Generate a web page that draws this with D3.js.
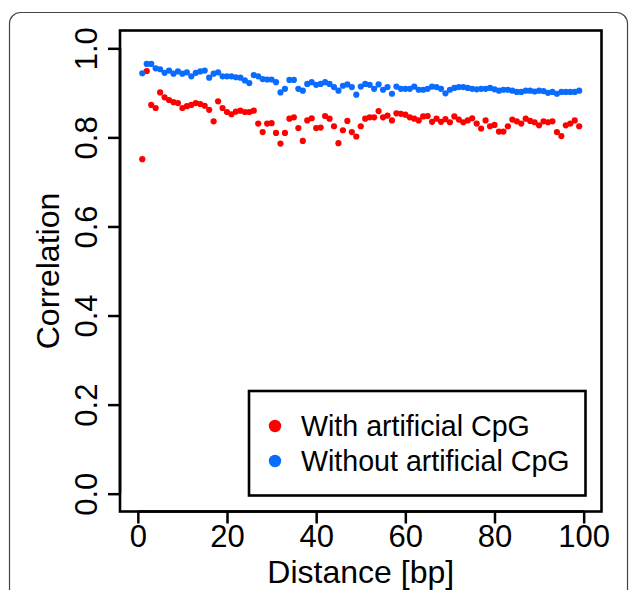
<!DOCTYPE html>
<html>
<head>
<meta charset="utf-8">
<script src="https://cdn.jsdelivr.net/npm/d3@7"></script>
<style>
html,body{margin:0;padding:0;background:#fff;}
svg{display:block;}
text{font-family:"Liberation Sans",Arial,Helvetica,sans-serif;fill:#000;}
</style>
</head>
<body>
<svg id="chart" width="629" height="590"></svg>
<script>
const distance = d3.range(1, 100);
const withCpG = [
0.751,0.949,0.873,0.866,0.901,0.890,0.884,0.879,0.877,0.866,
0.870,0.873,0.877,0.875,0.871,0.862,0.836,0.881,0.866,0.857,
0.852,0.858,0.860,0.857,0.857,0.860,0.831,0.812,0.831,0.832,
0.810,0.786,0.810,0.842,0.845,0.821,0.792,0.838,0.843,0.821,
0.822,0.848,0.842,0.825,0.787,0.816,0.837,0.812,0.802,0.825,
0.842,0.845,0.845,0.859,0.845,0.849,0.838,0.854,0.853,0.851,
0.845,0.842,0.838,0.847,0.848,0.835,0.842,0.835,0.841,0.834,
0.847,0.840,0.834,0.838,0.843,0.831,0.820,0.838,0.825,0.828,
0.813,0.813,0.825,0.840,0.836,0.831,0.842,0.837,0.834,0.827,
0.836,0.834,0.836,0.812,0.803,0.827,0.831,0.838,0.825
];
const withoutCpG = [
0.944,0.965,0.965,0.955,0.953,0.945,0.950,0.943,0.948,0.943,
0.946,0.937,0.945,0.948,0.950,0.934,0.943,0.946,0.937,0.937,
0.937,0.935,0.934,0.928,0.922,0.940,0.937,0.931,0.930,0.930,
0.924,0.901,0.909,0.929,0.929,0.909,0.905,0.920,0.924,0.918,
0.920,0.924,0.920,0.913,0.905,0.916,0.919,0.913,0.896,0.914,
0.920,0.918,0.909,0.919,0.907,0.913,0.898,0.914,0.909,0.909,
0.909,0.914,0.907,0.907,0.909,0.914,0.913,0.909,0.899,0.907,
0.911,0.913,0.913,0.911,0.909,0.908,0.909,0.909,0.911,0.908,
0.905,0.907,0.907,0.905,0.902,0.902,0.905,0.905,0.903,0.905,
0.904,0.900,0.902,0.898,0.902,0.902,0.902,0.902,0.905
];
const xTicks = [0, 20, 40, 60, 80, 100];
const yTicks = [0.0, 0.2, 0.4, 0.6, 0.8, 1.0];
const seriesNames = ["With artificial CpG", "Without artificial CpG"];
const seriesColors = ["#ff0000", "#0a6bff"];
const xLabel = "Distance [bp]";
const yLabel = "Correlation";

const svg = d3.select("#chart");
const L = 120, R = 601.5, T = 30.5, B = 511.5;
const x = d3.scaleLinear().domain([-4, 104]).range([L, R]);
const y = d3.scaleLinear().domain([-0.04, 1.04]).range([B, T]);

// outer panel frame
svg.append("rect").attr("x", 9.5).attr("y", 12.5).attr("width", 618).attr("height", 640)
  .attr("rx", 11).attr("fill", "none").attr("stroke", "#444").attr("stroke-width", 1.2);

// points
const series = [withCpG, withoutCpG];
series.forEach((vals, si) => {
  svg.append("g").selectAll("circle").data(distance).join("circle")
    .attr("cx", d => x(d)).attr("cy", (d, i) => y(vals[i]))
    .attr("r", 3.1).attr("fill", seriesColors[si]);
});

// axes
const xAxis = svg.append("g").attr("transform", `translate(0,${B})`)
  .call(d3.axisBottom(x).tickValues(xTicks).tickSize(12).tickPadding(8).tickFormat(d3.format("d")));
const yAxis = svg.append("g").attr("transform", `translate(${L},0)`)
  .call(d3.axisLeft(y).tickValues(yTicks).tickSize(12).tickFormat(d3.format(".1f")));
[xAxis, yAxis].forEach(g => {
  g.select(".domain").attr("stroke", "#000").attr("stroke-width", 2.5);
  g.selectAll(".tick line").attr("stroke", "#000").attr("stroke-width", 2.5);
  g.selectAll(".tick text").attr("font-size", 31).attr("font-family", "Liberation Sans, Arial, sans-serif").attr("fill", "#000");
});
xAxis.select(".domain").attr("d", `M${x(0)},0H${x(100)}`);
yAxis.select(".domain").attr("d", `M0,${y(0)}V${y(1)}`);
xAxis.selectAll(".tick text").attr("dy", null).attr("y", 35);
yAxis.selectAll(".tick text")
  .attr("x", null).attr("dy", null).attr("text-anchor", "middle")
  .attr("transform", "translate(-23,0) rotate(-90)");

// plot box
svg.append("rect").attr("x", L).attr("y", T).attr("width", R - L).attr("height", B - T)
  .attr("fill", "none").attr("stroke", "#000").attr("stroke-width", 2.6);

// axis titles
svg.append("text").attr("x", (L + R) / 2).attr("y", 583).attr("text-anchor", "middle")
  .attr("font-size", 32).text(xLabel);
svg.append("text").attr("transform", `translate(59,${(T + B) / 2}) rotate(-90)`)
  .attr("text-anchor", "middle").attr("font-size", 32).text(yLabel);

// legend
const lg = svg.append("g");
lg.append("rect").attr("x", 249).attr("y", 391).attr("width", 336.5).attr("height", 104.5)
  .attr("fill", "#fff").attr("stroke", "#000").attr("stroke-width", 2.6);
seriesNames.forEach((name, i) => {
  const cy = 426 + i * 35;
  lg.append("circle").attr("cx", 275).attr("cy", cy).attr("r", 6.2).attr("fill", seriesColors[i]);
  lg.append("text").attr("x", 301).attr("y", cy + 10).attr("font-size", 28.6).text(name);
});
</script>
</body>
</html>
